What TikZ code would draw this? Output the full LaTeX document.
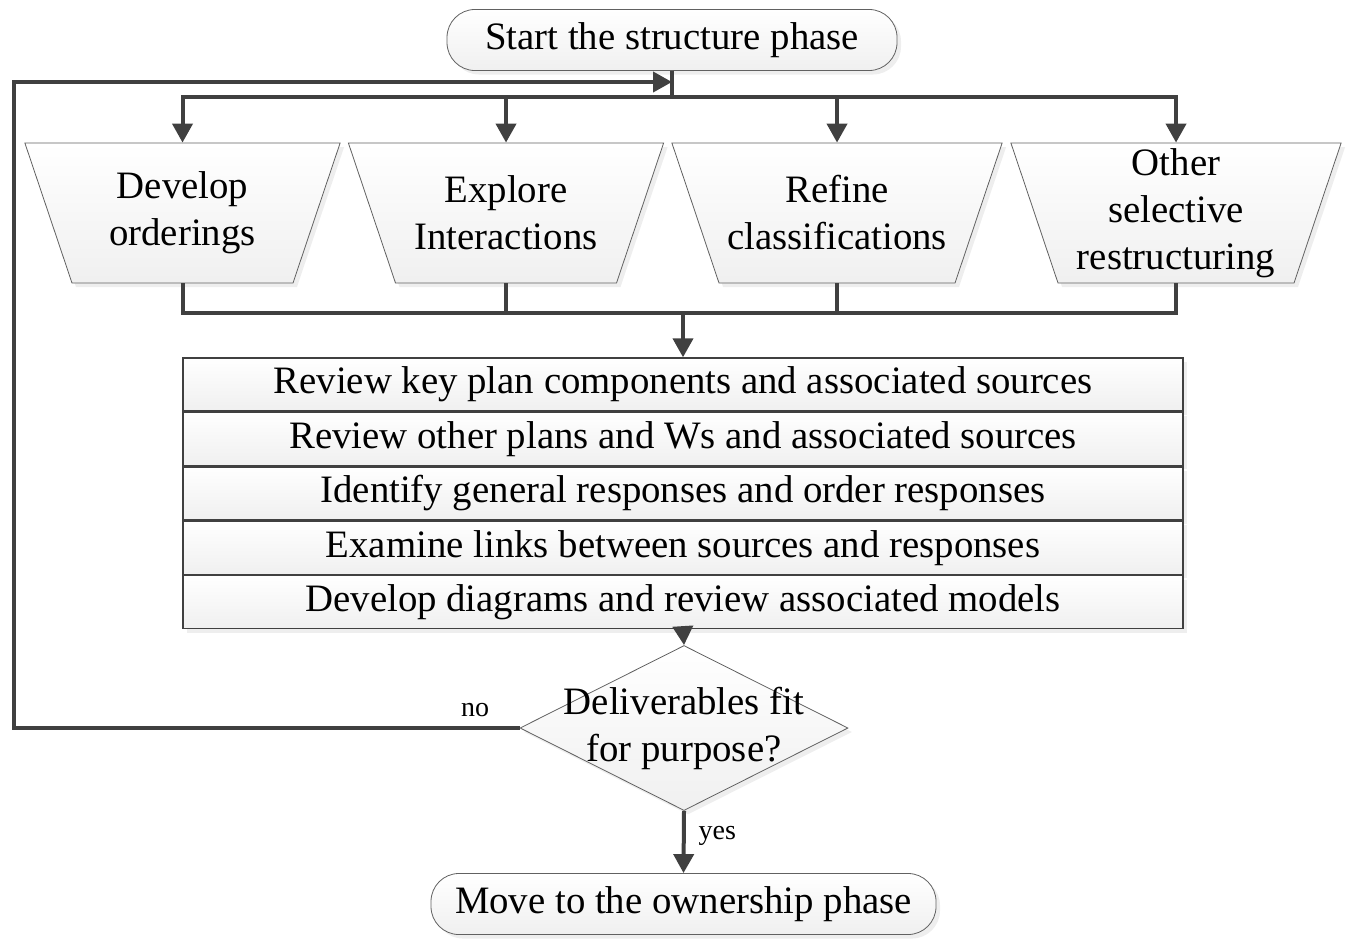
\documentclass[tikz,border=0pt]{standalone}
\usepackage{fontspec}
\setmainfont{Liberation Serif}
\usetikzlibrary{shapes.geometric,arrows.meta,positioning,shadows}
\begin{document}
\fontsize{19.4}{23.5}\selectfont
\begin{tikzpicture}[x=0.5pt,y=-0.5pt,
    box/.style={draw=black!62,line width=0.4pt,top color=white,bottom color=black!6,
      drop shadow={shadow xshift=2pt,shadow yshift=-2pt,fill=black!13}},
    term/.style={box,rounded corners=14pt,minimum height=28pt},
    trap/.style={box,trapezium,shape border rotate=180,trapezium angle=71.4,
      text height=35pt,text depth=35pt,inner sep=0pt},
    row/.style={box,draw=black!75,line width=0.7pt,minimum width=500pt,minimum height=26.5pt,inner sep=0pt},
    decide/.style={box,diamond,minimum width=164pt,minimum height=82.5pt,inner sep=0pt},
    link/.style={draw=LineGray,line width=2pt},
    flow/.style={link,-{Triangle[length=9.5pt,width=10pt]}},
    small/.style={font=\fontsize{14}{16}\selectfont}]
  \colorlet{LineGray}{black!75}
  \useasboundingbox (0,0) rectangle (1353,942);
  \node[term,minimum width=225pt] (start) at (672,40) {Start the structure phase};
  \node[trap,text width=110.5pt,label={[align=center]center:{Develop\\orderings}}] (t1) at (182.5,213) {};
  \node[trap,text width=110.5pt,label={[align=center]center:{Explore\\Interactions}}] (t2) at (506,213) {};
  \node[trap,text width=118pt,label={[align=center]center:{Refine\\classifications}}] (t3) at (837,213) {};
  \node[trap,text width=118pt,label={[align=center]center:{Other\\selective\\restructuring}}] (t4) at (1176,213) {};
  \node[row] (r1) at (683,384.5) {Review key plan components and associated sources};
  \node[row,below=0pt of r1] (r2) {Review other plans and Ws and associated sources};
  \node[row,below=0pt of r2] (r3) {Identify general responses and order responses};
  \node[row,below=0pt of r3] (r4) {Examine links between sources and responses};
  \node[row,below=0pt of r4] (r5) {Develop diagrams and review associated models};
  \node[decide] (dec) at (684,728) {};
  \node[align=center] (q) at (dec) {Deliverables fit\\for purpose?};
  \node[term,minimum width=252.5pt] (finish) at (683.5,904) {Move to the ownership phase};
  \coordinate (fork) at (672,97);
  \coordinate (join) at (683,313);
  \coordinate (back) at (14,82);
  \foreach \n in {t1,t2,t3,t4} \draw[flow] (start.south) -- (fork) -| (\n.north);
  \foreach \n in {t1,t2,t3,t4} \draw[link] (\n.south) |- (join);
  \draw[flow] (join) -- (r1.north);
  \draw[flow] (r5.south) -- (dec.north);
  \draw[flow] (dec.south) -- node[small,right,pos=0.4] (yes) {yes} (finish.north);
  \draw[flow] (dec.west) -| (back) -- (back -| start.south);
  \node[small] (no) at (475,710) {no};
\end{tikzpicture}
\end{document}
